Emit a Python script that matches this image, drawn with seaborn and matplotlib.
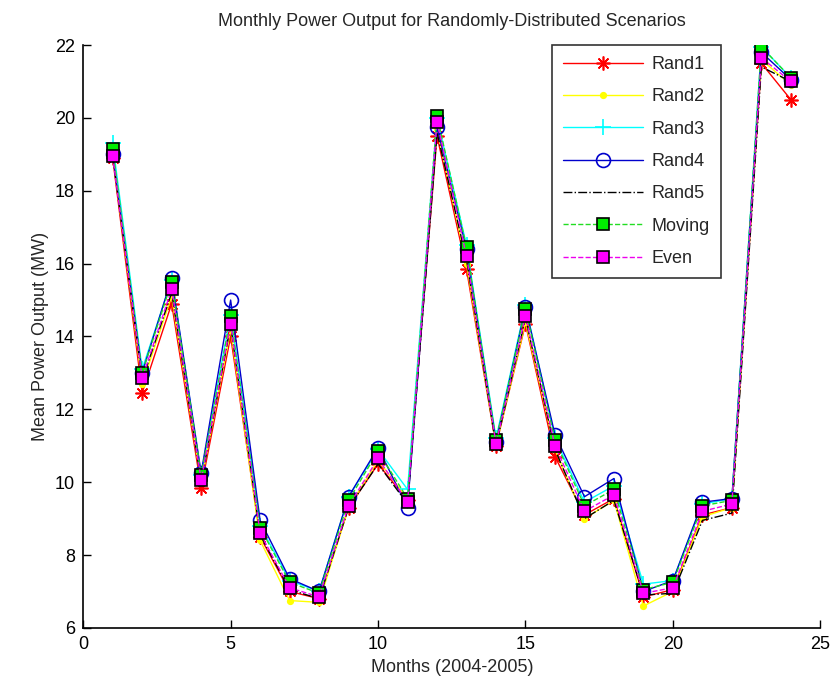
import numpy as np
import pandas as pd
import seaborn as sns
import matplotlib.pyplot as plt
from matplotlib import font_manager

months = list(range(1, 25))

rand1 = [18.9, 12.45, 14.9, 9.85, 14.0, 8.5, 7.0, 6.8, 9.3, 10.5, 9.5, 19.5,
         15.85, 11.0, 14.35, 10.7, 9.1, 9.55, 6.85, 7.05, 9.1, 9.3, 21.5, 20.5]
rand2 = [19.0, 12.7, 15.1, 10.0, 14.2, 8.4, 6.75, 6.7, 9.3, 10.6, 9.55, 19.7,
         16.0, 11.0, 14.4, 10.9, 9.0, 9.5, 6.6, 7.0, 9.05, 9.3, 21.6, 20.9]
rand3 = [19.3, 13.1, 15.55, 10.2, 14.6, 8.8, 7.3, 7.0, 9.6, 10.9, 9.8, 20.0,
         16.5, 11.2, 14.85, 11.2, 9.45, 9.9, 7.2, 7.3, 9.4, 9.55, 21.95, 21.1]
rand4 = [19.0, 13.0, 15.6, 10.25, 15.0, 8.95, 7.35, 7.0, 9.6, 10.95, 9.3, 19.75,
         16.4, 11.1, 14.8, 11.3, 9.6, 10.1, 7.0, 7.3, 9.45, 9.55, 21.8, 21.05]
rand5 = [18.95, 12.8, 15.2, 10.0, 14.3, 8.55, 7.05, 6.8, 9.3, 10.5, 9.4, 19.6,
         16.1, 11.0, 14.5, 10.9, 9.0, 9.5, 6.9, 6.95, 8.95, 9.15, 21.4, 21.0]
moving = [19.15, 13.0, 15.5, 10.2, 14.55, 8.75, 7.25, 6.95, 9.5, 10.85, 9.55, 20.05,
          16.45, 11.15, 14.75, 11.15, 9.35, 9.8, 7.05, 7.25, 9.35, 9.5, 21.95, 21.1]
even = [18.95, 12.85, 15.3, 10.05, 14.35, 8.6, 7.1, 6.85, 9.35, 10.65, 9.45, 19.9,
        16.2, 11.05, 14.55, 11.0, 9.2, 9.65, 6.95, 7.1, 9.2, 9.4, 21.65, 21.0]

series = {
    'Rand1': rand1, 'Rand2': rand2, 'Rand3': rand3, 'Rand4': rand4,
    'Rand5': rand5, 'Moving': moving, 'Even': even,
}

# MATLAB-like styles per series
styles = {
    'Rand1': dict(color='red', linestyle='-', marker=(8, 2, 0), markersize=10,
                  markeredgecolor='red'),
    'Rand2': dict(color='yellow', linestyle='-', marker='.', markersize=8,
                  markeredgecolor='yellow'),
    'Rand3': dict(color='cyan', linestyle='-', marker='+', markersize=12,
                  markeredgecolor='cyan'),
    'Rand4': dict(color='#0000cc', linestyle='-', marker='o', markersize=10,
                  markerfacecolor='none', markeredgecolor='#0000cc'),
    'Rand5': dict(color='black', linestyle='-.', marker=None),
    'Moving': dict(color='#22dd22', linestyle='--', marker='s', markersize=8,
                   markerfacecolor='#00ee00', markeredgecolor='black'),
    'Even': dict(color='#ee00ee', linestyle='--', marker='s', markersize=8,
                 markerfacecolor='#ff00ff', markeredgecolor='black'),
}

sns.set_style('white')
names = [f.name for f in font_manager.fontManager.ttflist]
fam = 'Liberation Sans Narrow' if 'Liberation Sans Narrow' in names else 'Liberation Sans'
plt.rcParams['font.family'] = [fam, 'DejaVu Sans']

fig = plt.figure(figsize=(8.32, 6.93), dpi=100)
ax = fig.add_axes([0.1, 0.094, 0.886, 0.841])

for name, vals in series.items():
    df = pd.DataFrame({'month': months, 'value': vals})
    st = dict(styles[name])
    sns.lineplot(data=df, x='month', y='value', ax=ax, label=name,
                 linewidth=1.0, markeredgewidth=1.2, **st)

ax.set_xlim(0, 25)
ax.set_ylim(6, 22)
ax.set_xticks([0, 5, 10, 15, 20, 25])
ax.set_yticks(np.arange(6, 23, 2))
ax.tick_params(direction='in', length=6, width=1, labelsize=13, colors='black',
               bottom=True, left=True, pad=6)
for side in ['top', 'right']:
    ax.spines[side].set_visible(False)
for side in ['left', 'bottom']:
    ax.spines[side].set_color('black')
    ax.spines[side].set_linewidth(1.2)

ax.set_xlabel('Months (2004-2005)', fontsize=13)
ax.set_ylabel('Mean Power Output (MW)', fontsize=13)
ax.set_title('Monthly Power Output for Randomly-Distributed Scenarios',
             fontsize=13, pad=14)

leg = ax.legend(loc='upper right', bbox_to_anchor=(0.865, 1.0), fontsize=13,
                frameon=True, fancybox=False, edgecolor='black',
                handlelength=4.4, labelspacing=0.85, borderpad=0.6,
                handletextpad=0.5, borderaxespad=0.0)
leg.get_frame().set_linewidth(1.2)

fig.savefig('out.png', dpi=100)
